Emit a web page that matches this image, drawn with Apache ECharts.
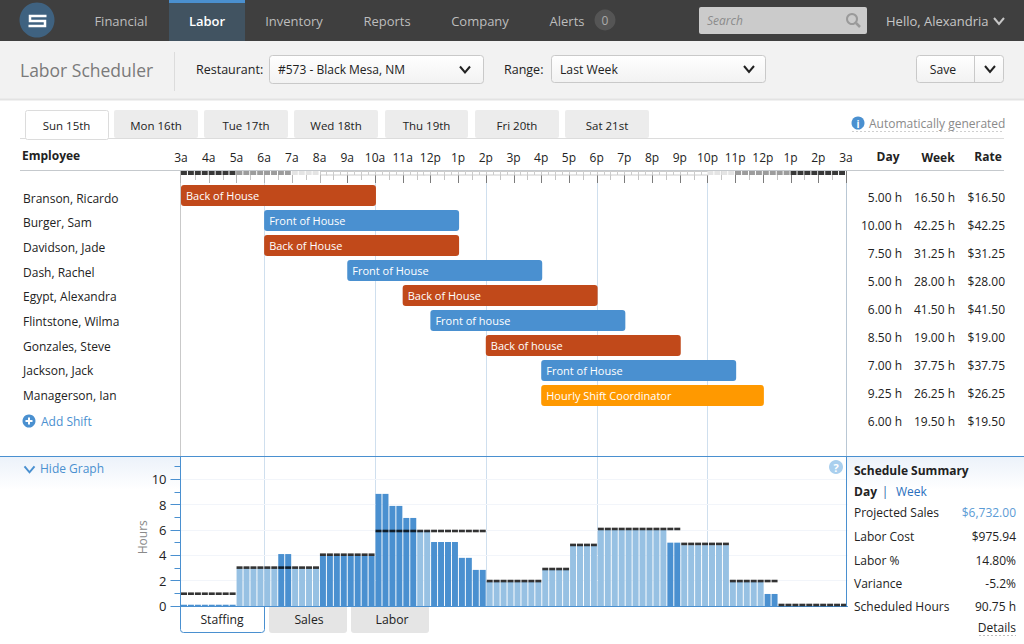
<!DOCTYPE html>
<html><head><meta charset="utf-8">
<style>html,body{margin:0;padding:0;background:#fff;overflow:hidden}#c{width:1024px;height:644px}</style>
<script src="https://cdn.jsdelivr.net/npm/echarts@6/dist/echarts.min.js"></script>
</head><body><div id="c"></div>
<script>
// ---------- data ----------
const navItems = ['Financial','Labor','Inventory','Reports','Company','Alerts'];
const alertCount = '0';
const dayTabs = ['Sun 15th','Mon 16th','Tue 17th','Wed 18th','Thu 19th','Fri 20th','Sat 21st'];
const graphTabs = ['Staffing','Sales','Labor'];
const hourLabels = ['3a','4a','5a','6a','7a','8a','9a','10a','11a','12p','1p','2p','3p','4p','5p','6p','7p','8p','9p','10p','11p','12p','1p','2p','3a'];
const employees = ['Branson, Ricardo','Burger, Sam','Davidson, Jade','Dash, Rachel','Egypt, Alexandra','Flintstone, Wilma','Gonzales, Steve','Jackson, Jack','Managerson, Ian'];
const shiftStart = [0,3,3,6,8,9,11,13,13];
const shiftEnd   = [7,10,10,13,15,16,18,20,21];
const shiftRole  = ['Back of House','Front of House','Back of House','Front of House','Back of House','Front of house','Back of house','Front of House','Hourly Shift Coordinator'];
const dayHours  = ['5.00 h','10.00 h','7.50 h','5.00 h','6.00 h','8.50 h','7.00 h','9.25 h','6.00 h'];
const weekHours = ['16.50 h','42.25 h','31.25 h','28.00 h','41.50 h','19.00 h','37.75 h','26.25 h','19.50 h'];
const rates     = ['$16.50','$42.25','$31.25','$28.00','$41.50','$19.00','$37.75','$26.25','$19.50'];
const scheduledHours = [
 0.1,0.1,0.1,0.1,0.1,0.1,0.1,0.1, 2.95,2.95,2.95,2.95,2.95,2.95, 4.1,4.1, 2.95,2.95,2.95,2.95,
 3.95,3.95,3.95,3.95,3.95,3.95,3.95,3.95, 8.85,8.85, 7.9,7.9, 6.95,6.95, 5.9,5.9, 5.05,5.05,5.05,5.05,
 3.8,3.8, 2.85,2.85, 1.9,1.9,1.9,1.9,1.9,1.9,1.9,1.9, 2.85,2.85,2.85,2.85, 4.75,4.75,4.75,4.75,
 6,6,6,6,6,6,6,6,6,6, 5,5, 4.8,4.8,4.8,4.8,4.8,4.8,4.8, 1.9,1.9,1.9,1.9,1.9, 0.95,0.95,
 0,0,0,0,0,0,0,0,0,0];
const offTarget = [
 1,1,1,1,1,1,1,1, 0,0,0,0,0,0, 1,1, 0,0,0,0,
 1,1,1,1,1,1,1,1, 1,1, 1,1, 1,1, 0,0, 1,1,1,1,
 1,1, 1,1, 0,0,0,0,0,0,0,0, 0,0,0,0, 0,0,0,0,
 0,0,0,0,0,0,0,0,0,0, 1,1, 0,0,0,0,0,0,0, 0,0,0,0,0, 1,1,
 0,0,0,0,0,0,0,0,0,0];
const targetHours = [
 0.97,0.97,0.97,0.97,0.97,0.97,0.97,0.97,
 3.03,3.03,3.03,3.03,3.03,3.03,3.03,3.03,3.03,3.03,3.03,3.03,
 4.05,4.05,4.05,4.05,4.05,4.05,4.05,4.05,
 5.92,5.92,5.92,5.92,5.92,5.92,5.92,5.92,5.92,5.92,5.92,5.92,5.92,5.92,5.92,5.92,
 1.97,1.97,1.97,1.97,1.97,1.97,1.97,1.97,
 2.92,2.92,2.92,2.92, 4.82,4.82,4.82,4.82,
 6.08,6.08,6.08,6.08,6.08,6.08,6.08,6.08,6.08,6.08,6.08,6.08,
 4.9,4.9,4.9,4.9,4.9,4.9,4.9,
 1.97,1.97,1.97,1.97,1.97,1.97,1.97,
 0.08,0.08,0.08,0.08,0.08,0.08,0.08,0.08,0.08,0.08];
const rulerShade = [
 3,3,3,3,3,3,3,3, 2,2,2,2,2,2,2,2, 1,1,1,1,
 0,0,0,0,0,0,0,0,0,0,0,0,0,0,0,0,0,0,0,0,0,0,0,0,0,0,0,0,
 0,0,0,0,0,0,0,0,0,0,0,0,0,0,0,0,0,0,0,0,0,0,0,0,0,0,0,0,
 1,1,1,1, 2,2,2,2,2,2,2,2, 3,3,3,3,3,3,3,3];
const guideHours = [3,7,11,15,19];
const majorHourTicks = [0,2,4,6,8,10];
const minorHourTicks = [1,3,5,7,9,11];
const summaryLabels = ['Projected Sales','Labor Cost','Labor %','Variance','Scheduled Hours'];
const summaryValues = ['$6,732.00','$975.94','14.80%','-5.2%','90.75 h'];

// ---------- styles ----------
const FONT = '"Open Sans","Noto Sans",sans-serif';
const BLUE = '#4a90d0', TXT = '#222';
const roleColor = r => /Back/.test(r) ? '#c1491a' : /Front/.test(r) ? BLUE : '#ff9900';
const shadeColor = ['#ffffff','#e4e4e4','#9c9c9c','#383838'];
const T = (x,y,text,o={}) => ({type:'text',x,y,silent:true,z:o.z||20,style:{text,fill:o.c||TXT,fontFamily:FONT,fontSize:o.s||12,fontWeight:o.w||'normal',fontStyle:o.i||'normal',
  align:o.a||'left',verticalAlign:'middle',textAlign:o.a||'left',textVerticalAlign:'middle'}});
const R = (x,y,w,h,fill,o={}) => ({type:'rect',silent:true,z:o.z||1,shape:{x,y,width:w,height:h,r:o.r||0},style:{fill,stroke:o.st||null,lineWidth:o.lw||1}});
const L = (x1,y1,x2,y2,c,o={}) => ({type:'line',silent:true,z:o.z||2,shape:{x1,y1,x2,y2},style:{stroke:c,lineWidth:o.lw||1,lineDash:o.d||null}});
const CHEV = (x,y,hw,hh,c,lw=2) => ({type:'polyline',silent:true,z:20,shape:{points:[[x-hw,y-hh],[x,y+hh],[x+hw,y-hh]]},style:{stroke:c,lineWidth:lw,fill:null}});
const C = (x,y,r,fill,o={}) => ({type:'circle',silent:true,z:o.z||15,shape:{cx:x,cy:y,r},style:{fill,stroke:o.st||null,lineWidth:o.lw||1}});
const VGRAD = (a,b) => ({type:'linear',x:0,y:0,x2:0,y2:1,colorStops:[{offset:0,color:a},{offset:1,color:b}]});

// ---------- chrome ----------
const navX = [121,207,294,387,480,567];
const tabEdges = [[25,108],[114,198],[204,288],[294,378],[385,468],[475,559],[565,649]];
const gfx = [];
gfx.push(R(0,41,1024,59,'#f2f2f2'), L(0,99.5,1024,99.5,'#e3e3e3',{lw:2}));
gfx.push(R(0,0,1024,41,'#3f3f3f',{z:3}));
gfx.push(R(169,0,76,41,'#415361',{z:4}), R(169,0,76,3,BLUE,{z:5}));
gfx.push(C(37,20,17.5,'#3f6280'));
gfx.push({type:'polyline',silent:true,z:16,shape:{points:[[46.5,16],[30,16],[30,21],[45,21],[45,26],[28.5,26]]},style:{stroke:'#fff',lineWidth:2.5,fill:null}});
navItems.forEach((n,i)=>gfx.push(T(navX[i],20.5,n,{c:i===1?'#fff':'#bdbdbd',s:13,a:'center',w:i===1?600:'normal'})));
gfx.push(C(605,20,10.5,'#555'), T(605,20.5,alertCount,{c:'#aaa',s:12,a:'center'}));
gfx.push(R(699,7,168,27,'#cbcbcb',{r:2,z:5}), T(707,20.5,'Search',{c:'#8c8c8c',s:12,i:'italic'}));
gfx.push({type:'circle',silent:true,z:16,shape:{cx:852,cy:19,r:5},style:{fill:null,stroke:'#9a9a9a',lineWidth:2}}, L(856,23,860,27,'#9a9a9a',{lw:2.5,z:16}));
gfx.push(T(886,20.5,'Hello, Alexandria',{c:'#c6c6c6',s:13}), CHEV(999,21,5,3,'#c6c6c6',2));

gfx.push(T(20,70,'Labor Scheduler',{c:'#7a7a7a',s:17.5}), L(174.5,52,174.5,91,'#dcdcdc'));
gfx.push(T(196,69.5,'Restaurant:',{s:12.5}), R(269.5,55.5,214,28,VGRAD('#ffffff','#f2f2f2'),{st:'#c9c9c9',r:3,z:3}),
  T(278,69.5,'#573 - Black Mesa, NM',{s:12}), CHEV(465,69.5,5,3,'#222',2));
gfx.push(T(504,69,'Range:',{s:12.5}), R(551.5,55.5,214,27,VGRAD('#ffffff','#f2f2f2'),{st:'#c9c9c9',r:3,z:3}),
  T(560,69,'Last Week',{s:12.2}), CHEV(749,69,5,3,'#222',2));
gfx.push(R(916.5,55.5,87,27,VGRAD('#ffffff','#f2f2f2'),{st:'#c9c9c9',r:3,z:3}), L(974.5,55.5,974.5,82.5,'#c9c9c9',{z:4}),
  T(943,69,'Save',{s:12.2,a:'center'}), CHEV(990,69,5,3,'#222',2));

gfx.push(L(20,138.5,1004,138.5,'#dcdcdc',{z:2}));
dayTabs.forEach((d,i)=>{const [a,b]=tabEdges[i];
  gfx.push(i===0 ? R(a+.5,110.5,b-a,29,'#fff',{st:'#dcdcdc',r:2,z:3}) : R(a,110,b-a,28,'#ececec',{r:2,z:3}));
  gfx.push(T((a+b)/2,125.5,d,{a:'center',s:11.5}));});
gfx.push(C(858,123,6.5,BLUE), T(858,123.5,'i',{c:'#fff',s:10,w:700,a:'center',z:21}));
gfx.push(T(869,123.5,'Automatically generated',{c:'#8a8a8a',s:12}), L(852,131.5,1004,131.5,'#cfcfcf',{d:[2,2]}));

gfx.push(T(22,155.5,'Employee',{s:12,w:700}), T(888,156.5,'Day',{s:12,w:700,a:'center'}), T(938,157,'Week',{s:12,w:700,a:'center'}), T(988,156.5,'Rate',{s:12,w:700,a:'center'}));
gfx.push(L(20,170.5,1004,170.5,'#c5c9cd',{z:2}));

gfx.push(C(29,421,6.5,BLUE), L(25.5,421,32.5,421,'#fff',{lw:2,z:16}), L(29,417.5,29,424.5,'#fff',{lw:2,z:16}));
gfx.push(T(41,421.5,'Add Shift',{c:BLUE,s:12}));

gfx.push(R(0,457,180,33,VGRAD('#ecf2fa','#ffffff')), R(847,457,177,33,VGRAD('#ecf2fa','#ffffff')));
gfx.push(L(0,456.5,1024,456.5,BLUE,{z:30}));
gfx.push(L(180.5,456.5,180.5,606.5,BLUE,{z:30}), L(846.5,456.5,846.5,606.5,BLUE,{z:30}));
gfx.push(CHEV(29.5,469.3,5,3,BLUE,2), T(40,468.5,'Hide Graph',{c:BLUE,s:12}));
gfx.push(C(836,467,7,'#a9cfee',{z:30}), T(836,467.5,'?',{c:'#fff',s:11,w:700,a:'center',z:31}));

gfx.push(T(854,470.5,'Schedule Summary',{s:12,w:700}), T(854,491,'Day',{s:12,w:700}), T(885,491,'|',{s:12,c:'#1f5fa8',a:'center'}), T(896,491,'Week',{s:12,c:'#2a6fbd'}));
const sumY=[512.5,536.5,560,583.5,606.5];
summaryLabels.forEach((l,i)=>{gfx.push(T(854,sumY[i],l,{s:12}), T(1016,sumY[i],summaryValues[i],{s:12,a:'right',c:i===0?'#5b9bd5':TXT}));});
gfx.push(T(1016,627.5,'Details',{s:12,a:'right'}), L(979,635.5,1016,635.5,'#bdbdbd',{d:[2,2]}));

const gTabE=[[180.5,264.5],[269,347],[351,429]];
const gTabX=[222,309,392];
graphTabs.forEach((g,i)=>{const [a,b]=gTabE[i];
  gfx.push(i===0 ? {type:'rect',silent:true,z:5,shape:{x:a,y:606.5,width:b-a,height:26,r:[0,0,3,3]},style:{fill:'#fff',stroke:BLUE,lineWidth:1}}
                 : {type:'rect',silent:true,z:5,shape:{x:a,y:607,width:b-a,height:26,r:[0,0,3,3]},style:{fill:'#e5e5e5'}});
  gfx.push(T(gTabX[i],619.5,g,{a:'center',s:12.2}));});

// ---------- layout ----------
const PL=181, PR=1024-846;
const grids=[
 {left:PL,right:PR,top:171,height:435},                     // timeline ruler & guides
 {left:PL,right:PR,top:183,height:225},                     // gantt
 {left:PL,right:PR,top:185.7,height:222.3},                 // names
 {left:855,right:19,top:183,height:252},                    // hour columns
 {left:180.5,width:667,top:456.5,height:149.5}              // staffing
];
const hidden={show:false};
const xAxes=[
 {gridIndex:0,type:'value',min:0,max:24,interval:1,position:'top',splitLine:hidden,axisLine:hidden,axisTick:hidden,
  axisLabel:{show:true,margin:8,fontFamily:FONT,fontSize:12,color:TXT,showMinLabel:true,showMaxLabel:true,hideOverlap:false,formatter:v=>hourLabels[v]}},
 {gridIndex:1,type:'value',min:0,max:24,show:false},
 {gridIndex:2,type:'value',min:0,max:1,show:false},
 {gridIndex:3,type:'value',min:0,max:3,show:false},
 {gridIndex:4,type:'category',z:6,data:scheduledHours.map((_,i)=>i),axisLine:{lineStyle:{color:BLUE}},axisTick:hidden,axisLabel:hidden,splitLine:hidden}
];
const yAxes=[
 {gridIndex:0,type:'value',min:0,max:1,show:false},
 {gridIndex:1,type:'category',data:employees,inverse:true,show:false},
 {gridIndex:2,type:'category',data:employees,inverse:true,axisLine:hidden,axisTick:hidden,splitLine:hidden,
  axisLabel:{margin:158,align:'left',fontFamily:FONT,fontSize:12,color:TXT}},
 {gridIndex:3,type:'category',data:employees,inverse:true,show:false},
 {gridIndex:4,type:'value',z:6,min:0,max:11.8,position:'left',name:'Hours',nameLocation:'middle',nameGap:32,nameRotate:90,nameMoveOverlap:false,
  nameTextStyle:{fontFamily:FONT,fontSize:12,color:'#8a8a8a',padding:[0,12,0,0]},
  axisLine:{show:true,lineStyle:{color:BLUE}},
  axisTick:{show:true,length:10,lineStyle:{color:BLUE},customValues:majorHourTicks},
  splitLine:{show:true,lineStyle:{color:'#f2f5fa'}},
  axisLabel:{margin:14,fontFamily:FONT,fontSize:13,color:TXT,customValues:majorHourTicks}},
 {gridIndex:4,type:'value',z:6,min:0,max:11.8,position:'left',axisLine:hidden,splitLine:hidden,axisLabel:hidden,
  axisTick:{show:true,length:6,lineStyle:{color:BLUE},customValues:minorHourTicks}}
];
const crisp=v=>Math.round(v)+0.5;
const edgeX=(h,x)=>crisp(x-(h===0?1:0));
const colNudge=[-3,0,0];

// ---------- series ----------
const rulerCells=rulerShade.map((s,i)=>[i,s]);
const rulerTicks=hourLabels.flatMap((_,h)=>h<24?[h,h+0.5]:[h]);
const series=[
 {name:'guides',type:'custom',xAxisIndex:0,yAxisIndex:0,z:1,silent:true,clip:false,data:guideHours.map(h=>[h]),encode:{x:0},
  renderItem:(p,api)=>{const a=api.coord([api.value(0),1]),b=api.coord([api.value(0),0]);
   return {type:'line',shape:{x1:crisp(a[0]),y1:a[1],x2:crisp(a[0]),y2:b[1]},style:{stroke:'#cfdfee',lineWidth:1}};}},
 {name:'edges',type:'custom',xAxisIndex:0,yAxisIndex:0,z:1,silent:true,clip:false,data:[[0],[24]],encode:{x:0},
  renderItem:(p,api)=>{const h=api.value(0),a=api.coord([h,1]),b=api.coord([h,0.345]);const x=edgeX(h,a[0]);
   return {type:'line',shape:{x1:x,y1:a[1],x2:x,y2:b[1]},style:{stroke:h===0?'#c9c9c9':'#b9c7d4',lineWidth:1}};}},
 {name:'rulerTicks',type:'custom',xAxisIndex:0,yAxisIndex:0,z:2,silent:true,clip:false,data:rulerTicks.map(h=>[h]),encode:{x:0},
  renderItem:(p,api)=>{const h=api.value(0),a=api.coord([h,1]);const major=Number.isInteger(h);const x=edgeX(h,a[0]);
   return {type:'line',shape:{x1:x,y1:a[1],x2:x,y2:a[1]+(major?12:9)},style:{stroke:major?(h<6?'#b5b5b5':'#7c7c7c'):'#c4c4c4',lineWidth:1}};}},
 {name:'ruler',type:'custom',xAxisIndex:0,yAxisIndex:0,z:3,silent:true,clip:false,data:rulerCells,encode:{x:0},
  renderItem:(p,api)=>{const q=api.value(0),s=api.value(1),a=api.coord([q/4,1]),b=api.coord([(q+1)/4,1]);
   return s?{type:'rect',shape:{x:a[0],y:a[1],width:b[0]-a[0]-1,height:4},style:{fill:shadeColor[s]}}
           :{type:'rect',shape:{x:Math.round(a[0])+0.5,y:a[1]+0.5,width:Math.round(b[0]-a[0]),height:3.5},style:{fill:'#fff',stroke:'#cccccc',lineWidth:1}};}},
 {name:'shifts',type:'custom',xAxisIndex:1,yAxisIndex:1,z:5,silent:true,clip:false,
  data:employees.map((_,i)=>[i,shiftStart[i],shiftEnd[i]]),encode:{x:[1,2],y:0},
  renderItem:(p,api)=>{const i=p.dataIndex,r=api.value(0),a=api.coord([api.value(1),r]),b=api.coord([api.value(2),r]);
   return {type:'group',children:[
    {type:'rect',shape:{x:a[0],y:a[1]-10.5,width:b[0]-a[0]+1,height:21,r:3},style:{fill:roleColor(shiftRole[i])}},
    {type:'text',x:a[0]+5,y:a[1],style:{text:shiftRole[i],fill:'#fff',fontFamily:FONT,fontSize:11,align:'left',verticalAlign:'middle',textAlign:'left',textVerticalAlign:'middle'}}]};}},
 {name:'names',type:'custom',xAxisIndex:2,yAxisIndex:2,silent:true,data:[],renderItem:()=>null},
 {name:'hoursColumns',type:'custom',xAxisIndex:3,yAxisIndex:3,silent:true,clip:false,
  data:employees.flatMap((_,r)=>[dayHours[r],weekHours[r],rates[r]].map((t,c)=>[c+1,r])),encode:{x:0,y:1},
  renderItem:(p,api)=>{const d=p.dataIndex,c=d%3,r=(d-c)/3,pt=api.coord([c+1,r]),t=[dayHours,weekHours,rates][c][r];
   return {type:'text',x:pt[0]+colNudge[c],y:pt[1],style:{text:t,fill:TXT,fontFamily:FONT,fontSize:12,align:'right',verticalAlign:'middle',textAlign:'right',textVerticalAlign:'middle'}};}},
 {name:'Scheduled',type:'bar',xAxisIndex:4,yAxisIndex:4,z:7,silent:true,barWidth:6,
  data:scheduledHours,itemStyle:{color:p=>offTarget[p.dataIndex]?BLUE:'#97c1e3'}},
 {name:'Target',type:'scatter',xAxisIndex:4,yAxisIndex:4,z:8,silent:true,symbol:'rect',symbolSize:[6,2.6],
  data:targetHours,itemStyle:{color:'#000'}}
];

const chart=echarts.init(document.getElementById('c'),null,{renderer:'svg',width:1024,height:644});
chart.setOption({animation:false,backgroundColor:'#fff',grid:grids,xAxis:xAxes,yAxis:yAxes,series,graphic:{elements:gfx}});
</script></body></html>
